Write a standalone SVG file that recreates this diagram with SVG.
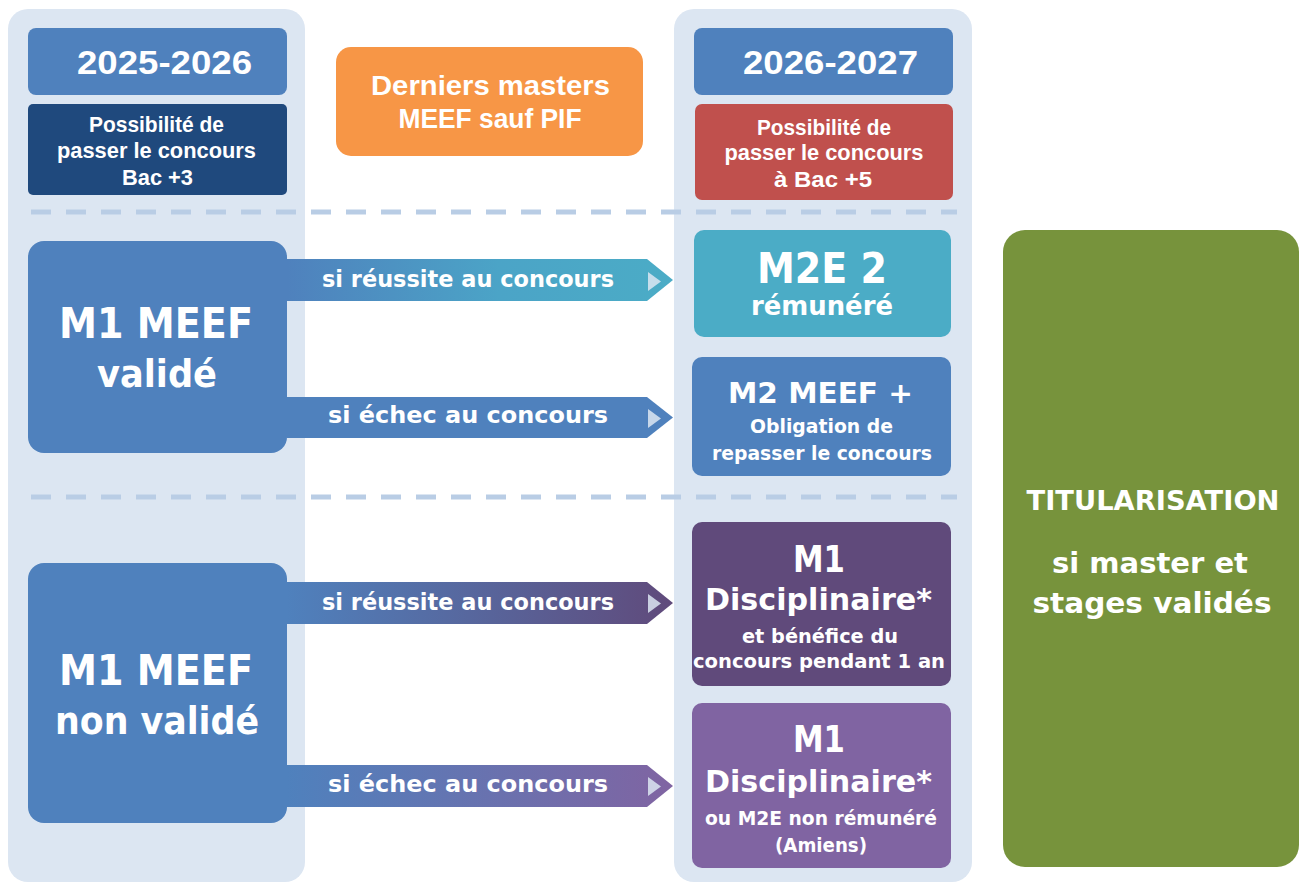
<svg xmlns="http://www.w3.org/2000/svg" width="1300" height="884" viewBox="0 0 1300 884">
<style>
.g{font-family:"DejaVu Sans","Liberation Sans",sans-serif;font-weight:bold;fill:#fff;text-anchor:middle}
.n{font-family:"Liberation Sans","DejaVu Sans",sans-serif;font-weight:bold;fill:#fff;text-anchor:middle}
.col{fill:#dce6f2}
.dash{stroke:#b9cde5;stroke-width:5;stroke-dasharray:20 15;fill:none}
.tri{fill:#dce6f2;fill-opacity:0.85}
</style>
<defs>
<linearGradient id="gA" x1="287" y1="0" x2="673" y2="0" gradientUnits="userSpaceOnUse"><stop offset="0" stop-color="#4f81bd"/><stop offset="0.55" stop-color="#4ba4c7"/><stop offset="1" stop-color="#4bacc6"/></linearGradient>
<linearGradient id="gC" x1="287" y1="0" x2="673" y2="0" gradientUnits="userSpaceOnUse"><stop offset="0" stop-color="#4f81bd"/><stop offset="1" stop-color="#604a7b"/></linearGradient>
<linearGradient id="gD" x1="287" y1="0" x2="673" y2="0" gradientUnits="userSpaceOnUse"><stop offset="0" stop-color="#4f81bd"/><stop offset="1" stop-color="#8064a2"/></linearGradient>
</defs>
<rect width="1300" height="884" fill="#fff"/>
<g id="columns">
<rect class="col" x="8" y="9" width="297" height="873" rx="20"/>
<rect class="col" x="674" y="9" width="298" height="873" rx="20"/>
</g>
<g id="separators">
<line class="dash" x1="31" y1="212" x2="957" y2="212"/>
<line class="dash" x1="31" y1="497" x2="957" y2="497"/>
</g>
<g id="year-2025">
<rect x="28" y="28" width="259" height="67" rx="8" fill="#4f81bd"/>
<text class="n" x="164.5" y="74" font-size="34" textLength="175" lengthAdjust="spacingAndGlyphs">2025-2026</text>
</g>
<g id="bac3">
<rect x="28" y="104" width="259" height="91" rx="5" fill="#1f497d"/>
<text class="n" x="156.5" y="132" font-size="22" textLength="135" lengthAdjust="spacingAndGlyphs">Possibilité de</text>
<text class="n" x="156.5" y="158" font-size="22" textLength="199" lengthAdjust="spacingAndGlyphs">passer le concours</text>
<text class="n" x="157.5" y="185" font-size="22" textLength="71" lengthAdjust="spacingAndGlyphs">Bac +3</text>
</g>
<g id="derniers">
<rect x="336" y="47" width="307" height="109" rx="15" fill="#f79646"/>
<text class="n" x="490.5" y="95" font-size="28" textLength="239" lengthAdjust="spacingAndGlyphs">Derniers masters</text>
<text class="n" x="490" y="128" font-size="28" textLength="183" lengthAdjust="spacingAndGlyphs">MEEF sauf PIF</text>
</g>
<g id="year-2026">
<rect x="694" y="28" width="259" height="67" rx="8" fill="#4f81bd"/>
<text class="n" x="830.5" y="74" font-size="34" textLength="175" lengthAdjust="spacingAndGlyphs">2026-2027</text>
</g>
<g id="bac5">
<rect x="695" y="104" width="258" height="96" rx="7" fill="#c0504d"/>
<text class="n" x="824" y="135" font-size="22" textLength="134" lengthAdjust="spacingAndGlyphs">Possibilité de</text>
<text class="n" x="824" y="160" font-size="22" textLength="199" lengthAdjust="spacingAndGlyphs">passer le concours</text>
<text class="n" x="823" y="187" font-size="22" textLength="98" lengthAdjust="spacingAndGlyphs">à Bac +5</text>
</g>
<g id="m1-valide">
<rect x="28" y="241" width="259" height="212" rx="16" fill="#4f81bd"/>
<text class="g" x="156" y="338" font-size="42" textLength="194" lengthAdjust="spacingAndGlyphs">M1 MEEF</text>
<text class="g" x="157" y="387" font-size="37" textLength="120" lengthAdjust="spacingAndGlyphs">validé</text>
</g>
<g id="m1-non-valide">
<rect x="28" y="563" width="259" height="260" rx="16" fill="#4f81bd"/>
<text class="g" x="156" y="685" font-size="42" textLength="194" lengthAdjust="spacingAndGlyphs">M1 MEEF</text>
<text class="g" x="157" y="734" font-size="37" textLength="204" lengthAdjust="spacingAndGlyphs">non validé</text>
</g>
<g id="m2e2">
<rect x="694" y="230" width="257" height="107" rx="10" fill="#4bacc6"/>
<text class="g" x="822" y="283" font-size="42" textLength="130" lengthAdjust="spacingAndGlyphs">M2E 2</text>
<text class="g" x="822" y="315" font-size="27" textLength="142" lengthAdjust="spacingAndGlyphs">rémunéré</text>
</g>
<g id="m2meef">
<rect x="692" y="357" width="259" height="119" rx="10" fill="#4f81bd"/>
<text class="g" x="820.5" y="403" font-size="29" textLength="185" lengthAdjust="spacingAndGlyphs">M2 MEEF +</text>
<text class="g" x="821.5" y="433" font-size="19" textLength="143" lengthAdjust="spacingAndGlyphs">Obligation de</text>
<text class="g" x="822" y="460" font-size="19" textLength="220" lengthAdjust="spacingAndGlyphs">repasser le concours</text>
</g>
<g id="m1-disc-reussite">
<rect x="692" y="522" width="259" height="164" rx="10" fill="#604a7b"/>
<text class="g" x="819" y="572" font-size="37" textLength="52" lengthAdjust="spacingAndGlyphs">M1</text>
<text class="g" x="818.5" y="610" font-size="31" textLength="227" lengthAdjust="spacingAndGlyphs">Disciplinaire*</text>
<text class="g" x="820" y="643" font-size="19.5" textLength="156" lengthAdjust="spacingAndGlyphs">et bénéfice du</text>
<text class="g" x="819" y="668" font-size="19.5" textLength="252" lengthAdjust="spacingAndGlyphs">concours pendant 1 an</text>
</g>
<g id="m1-disc-echec">
<rect x="692" y="703" width="259" height="165" rx="10" fill="#8064a2"/>
<text class="g" x="819" y="752" font-size="37" textLength="52" lengthAdjust="spacingAndGlyphs">M1</text>
<text class="g" x="818.5" y="792" font-size="31" textLength="227" lengthAdjust="spacingAndGlyphs">Disciplinaire*</text>
<text class="g" x="821" y="825" font-size="19.5" textLength="232" lengthAdjust="spacingAndGlyphs">ou M2E non rémunéré</text>
<text class="g" x="821" y="852" font-size="19.5" textLength="92" lengthAdjust="spacingAndGlyphs">(Amiens)</text>
</g>
<g id="titularisation">
<rect x="1003" y="230" width="296" height="637" rx="22" fill="#77933c"/>
<text class="g" x="1153" y="510" font-size="27" textLength="253" lengthAdjust="spacingAndGlyphs">TITULARISATION</text>
<text class="g" x="1150" y="573" font-size="29" textLength="196" lengthAdjust="spacingAndGlyphs">si master et</text>
<text class="g" x="1152" y="613" font-size="29" textLength="239" lengthAdjust="spacingAndGlyphs">stages validés</text>
</g>
<g id="connectors">
<polygon points="287,259 647,259 673,280 647,301 287,301" fill="url(#gA)"/>
<polygon class="tri" points="648,272 661,281.5 648,291"/>
<text class="g" x="468" y="287" font-size="22.5" textLength="292" lengthAdjust="spacingAndGlyphs">si réussite au concours</text>
<polygon points="287,397 647,397 673,417.5 647,438 287,438" fill="#4f81bd"/>
<polygon class="tri" points="648,409 661,418.5 648,428"/>
<text class="g" x="468" y="423" font-size="22.5" textLength="280" lengthAdjust="spacingAndGlyphs">si échec au concours</text>
<polygon points="287,582 647,582 673,603 647,624 287,624" fill="url(#gC)"/>
<polygon class="tri" points="648,594 661,603.5 648,613"/>
<text class="g" x="468" y="610" font-size="22.5" textLength="292" lengthAdjust="spacingAndGlyphs">si réussite au concours</text>
<polygon points="287,765 647,765 673,786 647,807 287,807" fill="url(#gD)"/>
<polygon class="tri" points="648,777 661,786.5 648,796"/>
<text class="g" x="468" y="792" font-size="22.5" textLength="280" lengthAdjust="spacingAndGlyphs">si échec au concours</text>
</g>
</svg>
